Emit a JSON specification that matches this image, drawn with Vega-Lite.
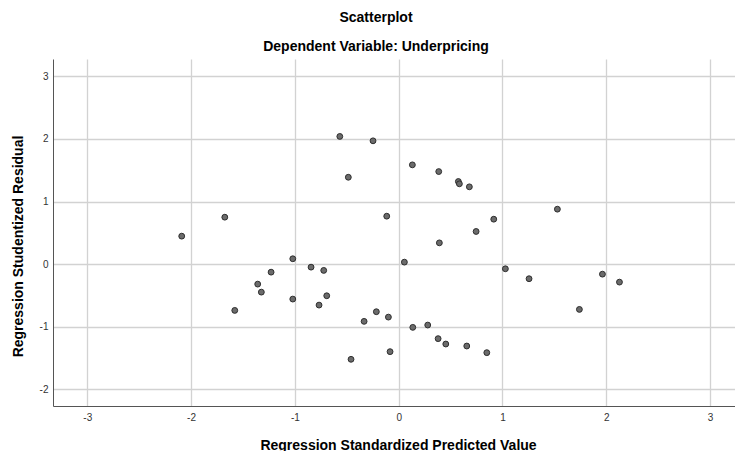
{
  "$schema": "https://vega.github.io/schema/vega-lite/v6.json",
  "width": 682,
  "height": 347,
  "autosize": {"type": "none"},
  "padding": {"left": 53, "top": 59, "right": 0, "bottom": 45},
  "background": "white",
  "title": {
    "text": "Scatterplot",
    "subtitle": "Dependent Variable: Underpricing",
    "font": "Liberation Sans",
    "fontSize": 14,
    "fontWeight": "bold",
    "color": "#000000",
    "subtitleFont": "Liberation Sans",
    "subtitleFontSize": 14,
    "subtitleFontWeight": "bold",
    "subtitleColor": "#000000",
    "subtitlePadding": 15,
    "anchor": "middle",
    "frame": "group",
    "dx": -18,
    "offset": 5
  },
  "config": {
    "view": {"stroke": null},
    "axis": {
      "labelFont": "Liberation Sans",
      "labelFontSize": 10,
      "labelColor": "#333333",
      "titleFont": "Liberation Sans",
      "titleFontSize": 14,
      "titleFontWeight": "bold",
      "titleColor": "#000000",
      "tickSize": 0,
      "domainColor": "#555555",
      "domainWidth": 1,
      "gridColor": "#d2d2d2",
      "gridWidth": 1.3
    }
  },
  "data": {
    "values": [
      {"pred": -0.567, "resid": 2.04},
      {"pred": -0.247, "resid": 1.97},
      {"pred": 0.132, "resid": 1.586},
      {"pred": 0.386, "resid": 1.479},
      {"pred": -0.485, "resid": 1.388},
      {"pred": -1.675, "resid": 0.75},
      {"pred": -0.115, "resid": 0.766},
      {"pred": -2.09, "resid": 0.447},
      {"pred": 0.392, "resid": 0.34},
      {"pred": -1.02, "resid": 0.086},
      {"pred": 0.055, "resid": 0.032},
      {"pred": -0.844, "resid": -0.048},
      {"pred": -0.722, "resid": -0.1},
      {"pred": -1.229, "resid": -0.128},
      {"pred": -1.358, "resid": -0.319},
      {"pred": -1.323, "resid": -0.447},
      {"pred": -1.02, "resid": -0.558},
      {"pred": -0.693, "resid": -0.505},
      {"pred": -0.767, "resid": -0.654},
      {"pred": -1.579, "resid": -0.739},
      {"pred": -0.333, "resid": -0.914},
      {"pred": -0.215, "resid": -0.76},
      {"pred": -0.099, "resid": -0.846},
      {"pred": 0.136, "resid": -1.01},
      {"pred": 0.28, "resid": -0.973},
      {"pred": 0.38, "resid": -1.19},
      {"pred": 0.454, "resid": -1.276},
      {"pred": -0.459, "resid": -1.52},
      {"pred": -0.083, "resid": -1.398},
      {"pred": 0.575, "resid": 1.32},
      {"pred": 0.585, "resid": 1.283},
      {"pred": 0.681, "resid": 1.235},
      {"pred": 0.916, "resid": 0.718},
      {"pred": 0.746, "resid": 0.522},
      {"pred": 1.529, "resid": 0.878},
      {"pred": 1.028, "resid": -0.074},
      {"pred": 1.256, "resid": -0.233},
      {"pred": 1.963, "resid": -0.16},
      {"pred": 2.127, "resid": -0.287},
      {"pred": 1.741, "resid": -0.723},
      {"pred": 0.656, "resid": -1.308},
      {"pred": 0.849, "resid": -1.414}
    ]
  },
  "mark": {"type": "point", "shape": "circle", "filled": true, "fill": "#6b6b6b", "stroke": "#2e2e2e", "strokeWidth": 1, "size": 34, "opacity": 1},
  "encoding": {
    "x": {
      "field": "pred",
      "type": "quantitative",
      "scale": {"domain": [-3.33, 3.24], "nice": false, "zero": false},
      "axis": {
        "title": "Regression Standardized Predicted Value",
        "values": [-3, -2, -1, 0, 1, 2, 3],
        "labelExpr": "toString(datum.value)",
        "labelPadding": 6,
        "titleBaseline": "alphabetic",
        "titleX": 345,
        "titleY": 43,
        "titleAnchor": "middle",
        "titleAlign": "center"
      }
    },
    "y": {
      "field": "resid",
      "type": "quantitative",
      "scale": {"domain": [-2.266, 3.277], "nice": false, "zero": false},
      "axis": {
        "title": "Regression Studentized Residual",
        "values": [-2, -1, 0, 1, 2, 3],
        "labelExpr": "toString(datum.value)",
        "labelPadding": 5,
        "titleBaseline": "middle",
        "titleAlign": "center",
        "titleAngle": 270,
        "titleX": -35,
        "titleY": 187
      }
    }
  }
}
